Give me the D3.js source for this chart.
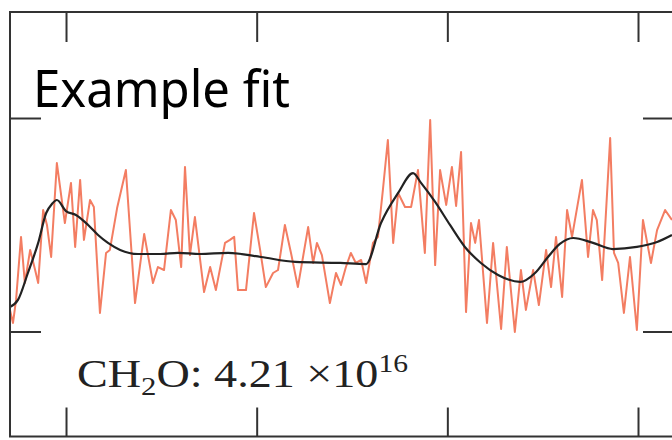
<!DOCTYPE html>
<html>
<head>
<meta charset="utf-8">
<script src="https://cdn.jsdelivr.net/npm/d3@7"></script>
<style>
  html, body { margin: 0; padding: 0; background: #fff; }
  svg { display: block; }
</style>
</head>
<body>
<svg id="chart" width="672" height="440"></svg>
<script>
// Measured spectrum (wavelength in nm, differential optical depth)
const wavelength = [
  328.53, 328.61, 328.69, 328.82, 328.92, 329.06, 329.19, 329.27, 329.40, 329.50,
  329.61, 329.76, 329.97, 330.13, 330.24, 330.37, 330.47, 330.63, 330.73, 330.89,
  331.05, 331.15, 331.34, 331.57, 331.81, 332.05, 332.28, 332.41, 332.57, 332.75,
  332.88, 333.02, 333.12, 333.25, 333.38, 333.62, 333.78, 333.93, 334.17, 334.30,
  334.41, 334.51, 334.72, 334.93, 335.09, 335.24, 335.43, 335.56, 335.74, 335.90,
  336.08, 336.35, 336.48, 336.58, 336.71, 336.92, 337.08, 337.21, 337.34, 337.47,
  337.60, 337.74, 337.87, 338.05, 338.18, 338.31, 338.44, 338.58, 338.71, 338.89,
  339.05, 339.23, 339.41, 339.55, 339.68, 339.81, 339.97, 340.12, 340.23, 340.36,
  340.49, 340.62, 340.73, 340.83, 341.04, 341.20, 341.41, 341.56, 341.77, 341.93,
  342.06, 342.25, 342.40, 342.59, 342.72, 342.85, 343.01, 343.14, 343.27, 343.53,
  343.69, 343.82, 343.92, 344.06, 344.27, 344.37, 344.48, 344.63, 344.79, 344.97,
  345.13, 345.34, 345.50, 345.71, 345.89
];
const measured = [
  0.101, 0.040, 0.148, 0.443, 0.227, 0.382, 0.288, 0.227, 0.569, 0.499,
  0.349, 0.789, 0.508, 0.696, 0.396, 0.710, 0.429, 0.616, 0.583, 0.087,
  0.368, 0.382, 0.578, 0.756, 0.133, 0.457, 0.227, 0.302, 0.288, 0.569,
  0.522, 0.302, 0.771, 0.358, 0.536, 0.185, 0.302, 0.194, 0.415, 0.429,
  0.443, 0.194, 0.194, 0.555, 0.382, 0.208, 0.274, 0.288, 0.499, 0.368,
  0.208, 0.489, 0.321, 0.415, 0.358, 0.133, 0.274, 0.218, 0.302, 0.368,
  0.321, 0.335, 0.227, 0.415, 0.443, 0.663, 0.897, 0.415, 0.649, 0.583,
  0.583, 0.756, 0.368, 0.991, 0.311, 0.756, 0.593, 0.771, 0.588, 0.841,
  0.091, 0.508, 0.415, 0.522, 0.040, 0.415, 0.012, 0.396, -0.002, 0.288,
  0.101, 0.288, 0.124, 0.382, 0.208, 0.443, 0.162, 0.569, 0.443, 0.710,
  0.349, 0.569, 0.522, 0.241, 0.906, 0.368, 0.321, 0.087, 0.349, 0.007,
  0.522, 0.321, 0.475, 0.569, 0.522
];

// Fitted CH2O cross-section model
const fitWavelength = [
  328.53, 328.74, 329.00, 329.27, 329.48, 329.63, 329.76, 330.00, 330.26, 330.58,
  330.84, 331.10, 331.42, 331.89, 332.47, 332.94, 333.51, 334.25, 335.11, 336.01,
  337.19, 337.87, 338.26, 338.71, 339.10, 339.31, 339.68, 340.07, 340.46, 340.88,
  341.33, 341.91, 342.30, 342.64, 342.95, 343.30, 343.82, 344.34, 344.97, 345.50,
  345.89
];
const fitted = [
  0.115, 0.148, 0.274, 0.415, 0.555, 0.597, 0.616, 0.564, 0.546, 0.499,
  0.452, 0.415, 0.382, 0.363, 0.363, 0.368, 0.363, 0.368, 0.349, 0.326,
  0.321, 0.316, 0.508, 0.649, 0.742, 0.696, 0.607, 0.499, 0.396, 0.321,
  0.265, 0.232, 0.274, 0.349, 0.410, 0.438, 0.415, 0.386, 0.396, 0.419,
  0.452
];

const xTicks = [330, 335, 340, 345];
const yTicks = [0, 1];
const title = "Example fit";
const species = "CH";
const speciesSub = "2";
const speciesEnd = "O";
const columnMantissa = "4.21";
const columnExponent = "16";

const svg = d3.select("#chart");
const frame = { left: 10, right: 674, top: 12, bottom: 436.5 };

const x = d3.scaleLinear().domain([328.531, 345.944]).range([frame.left, frame.right]);
const y = d3.scaleLinear().domain([-0.4918, 1.4965]).range([frame.bottom, frame.top]);

// Measured trace
svg.append("path")
  .datum(d3.zip(wavelength, measured))
  .attr("fill", "none")
  .attr("stroke", "#f37d62")
  .attr("stroke-width", 2)
  .attr("stroke-linejoin", "round")
  .attr("d", d3.line().x(d => x(d[0])).y(d => y(d[1])));

// Fitted model
svg.append("path")
  .datum(d3.zip(fitWavelength, fitted))
  .attr("fill", "none")
  .attr("stroke", "#222")
  .attr("stroke-width", 2.2)
  .attr("d", d3.line().curve(d3.curveMonotoneX).x(d => x(d[0])).y(d => y(d[1])));

// Frame with inward ticks on all four sides
const axisStyle = g => {
  g.select(".domain").remove();
  g.selectAll("text").remove();
  g.selectAll(".tick line").attr("stroke", "#333").attr("stroke-width", 2);
};
svg.append("g").attr("transform", `translate(0,${frame.top})`)
  .call(d3.axisBottom(x).tickValues(xTicks).tickSize(30).tickFormat(""))
  .call(axisStyle);
svg.append("g").attr("transform", `translate(0,${frame.bottom})`)
  .call(d3.axisTop(x).tickValues(xTicks).tickSize(29).tickFormat(""))
  .call(axisStyle);
svg.append("g").attr("transform", `translate(${frame.left},0)`)
  .call(d3.axisRight(y).tickValues(yTicks).tickSize(31).tickFormat(""))
  .call(axisStyle);
svg.append("g").attr("transform", `translate(${frame.right},0)`)
  .call(d3.axisLeft(y).tickValues(yTicks).tickSize(31).tickFormat(""))
  .call(axisStyle);

svg.append("rect")
  .attr("x", frame.left).attr("y", frame.top)
  .attr("width", frame.right - frame.left)
  .attr("height", frame.bottom - frame.top)
  .attr("fill", "none")
  .attr("stroke", "#333")
  .attr("stroke-width", 2);

// Title
svg.append("text")
  .attr("x", 33).attr("y", 107)
  .attr("font-family", "'Noto Sans', sans-serif")
  .attr("font-size", 51)
  .attr("fill", "#000")
  .attr("textLength", 257)
  .attr("lengthAdjust", "spacingAndGlyphs")
  .text(title);

// Retrieved column annotation
const label = svg.append("text")
  .attr("x", 77).attr("y", 387)
  .attr("font-family", "'Liberation Serif', serif")
  .attr("font-size", 39)
  .attr("fill", "#222")
  .attr("textLength", 331)
  .attr("lengthAdjust", "spacingAndGlyphs");
label.append("tspan").text(species);
label.append("tspan").attr("font-size", 26).attr("dy", 8).text(speciesSub);
label.append("tspan").attr("dy", -8).text(speciesEnd + ": " + columnMantissa + "  \u00d710");
label.append("tspan").attr("font-size", 25).attr("dy", -15).text(columnExponent);
</script>
</body>
</html>
